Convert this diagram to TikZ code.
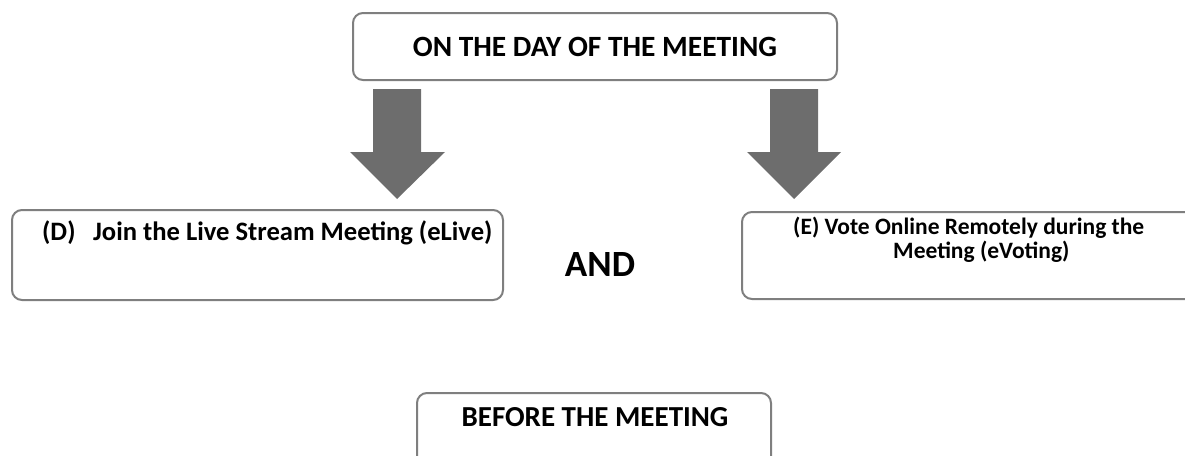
\documentclass[tikz,border=0pt]{standalone}
\usepackage{fontspec}
\setmainfont{Carlito}
\definecolor{boxline}{HTML}{7F7F7F}
\definecolor{arrowfill}{HTML}{6D6D6D}
\begin{document}
\begin{tikzpicture}[x=1pt,y=-1pt,
  box/.style={draw=boxline,line width=2pt,rounded corners=10pt,fill=white},
  bigarrow/.style={fill=arrowfill,draw=none},
  lbl/.style={font=\bfseries,text=black,inner sep=0pt,anchor=center}]
\useasboundingbox (0,0) rectangle (1185,455);
\clip (0,0) rectangle (1185,455);
% boxes
\draw[box] (353,13) rectangle (837,80);
\node[lbl,font=\fontsize{29.4}{32}\selectfont\bfseries] (top) at (595,47) {ON THE DAY OF THE MEETING};
\draw[box] (12,210) rectangle (503,300);
\node[lbl,anchor=west,font=\fontsize{26.6}{28}\selectfont\bfseries] (d) at (42,233) {\makebox[51pt][l]{(D)}Join the Live Stream Meeting (eLive)};
\draw[box] (742,212) rectangle (1210,299);
\node[lbl,anchor=west,font=\fontsize{23.5}{25}\selectfont\bfseries] (e1) at (793,228) {(E) Vote Online Remotely during the};
\node[lbl,anchor=west,font=\fontsize{23.5}{25}\selectfont\bfseries] (e2) at (893,252) {Meeting (eVoting)};
\node[lbl,font=\fontsize{37}{40}\selectfont\bfseries] (and) at (600,264) {AND};
\draw[box] (417,393) rectangle (771,480);
\node[lbl,font=\fontsize{29}{32}\selectfont\bfseries] (before) at (595,417) {BEFORE THE MEETING};
% arrows
\fill[bigarrow] (373,89) -- (421,89) -- (421,152) -- (445,152) -- (397,199) -- (350,152) -- (373,152) -- cycle;
\fill[bigarrow] (770,89) -- (818,89) -- (818,152) -- (841,152) -- (794,199) -- (747,152) -- (770,152) -- cycle;
\end{tikzpicture}
\end{document}
